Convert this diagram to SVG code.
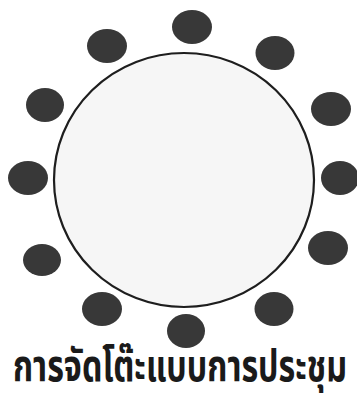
<svg xmlns="http://www.w3.org/2000/svg" width="357" height="410" viewBox="0 0 357 410">
<style>
.seat{fill:#383838;}
.table{fill:#f6f6f6;stroke:#1e1e1e;stroke-width:2.2;}
.cap{font-family:"Noto Sans Thai","Noto Sans","DejaVu Sans",sans-serif;font-weight:bold;font-size:44px;fill:#1a1a1a;}
</style>
<rect width="357" height="410" fill="#ffffff"/>
<g id="table"><ellipse class="table" cx="184" cy="180" rx="130" ry="127"/></g>
<g id="seat1"><ellipse class="seat" cx="192" cy="27" rx="20" ry="17"/></g>
<g id="seat2"><ellipse class="seat" cx="107" cy="46" rx="20" ry="17"/></g>
<g id="seat3"><ellipse class="seat" cx="275" cy="53" rx="19.5" ry="17"/></g>
<g id="seat4"><ellipse class="seat" cx="45" cy="105" rx="19" ry="17"/></g>
<g id="seat5"><ellipse class="seat" cx="331" cy="109" rx="20" ry="17"/></g>
<g id="seat6"><ellipse class="seat" cx="28" cy="178" rx="20" ry="17"/></g>
<g id="seat7"><ellipse class="seat" cx="340" cy="178" rx="19" ry="17"/></g>
<g id="seat8"><ellipse class="seat" cx="42" cy="260" rx="19" ry="16"/></g>
<g id="seat9"><ellipse class="seat" cx="328" cy="248" rx="20" ry="17"/></g>
<g id="seat10"><ellipse class="seat" cx="102" cy="309" rx="20" ry="17"/></g>
<g id="seat11"><ellipse class="seat" cx="274" cy="309" rx="19.5" ry="17"/></g>
<g id="seat12"><ellipse class="seat" cx="186" cy="331" rx="19" ry="17"/></g>
<g id="caption"><text class="cap" x="13" y="381" textLength="334" lengthAdjust="spacingAndGlyphs">การจัดโต๊ะแบบการประชุม</text></g>
</svg>
